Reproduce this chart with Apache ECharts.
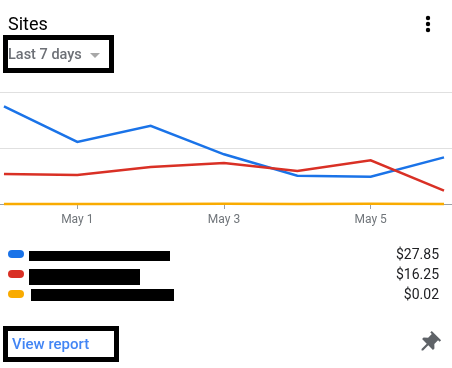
<!DOCTYPE html>
<html>
<head>
<meta charset="utf-8">
<style>
  html, body { margin: 0; padding: 0; background: #fff; }
  #main { width: 452px; height: 368px; }
</style>
<script src="https://cdn.jsdelivr.net/npm/echarts@6/dist/echarts.min.js"></script>
</head>
<body>
<div id="main"></div>
<script>
var chart = echarts.init(document.getElementById('main'), null, { renderer: 'canvas' });

var days = [0, 1, 2, 3, 4, 5, 6];
var tickDays = [1, 3, 5];
var tickLabels = { 1: 'May 1', 3: 'May 3', 5: 'May 5' };

var blueValues = [6.98, 4.43, 5.59, 3.55, 2.02, 1.95, 3.33];
var redValues = [2.15, 2.08, 2.65, 2.93, 2.36, 3.12, 0.96];
var yellowValues = [0, 0, 0, 0.01, 0, 0.01, 0];

var totals = ['$27.85', '$16.25', '$0.02'];
var colors = ['#1a73e8', '#d93025', '#f9ab00'];

var pinPoints = [[-6, -10], [6, -10], [6, -8], [4, -8], [4, -3], [7, 0], [7, 2], [1, 2], [1, 9], [0, 10], [-1, 9], [-1, 2], [-7, 2], [-7, 0], [-4, -3], [-4, -8], [-6, -8]];

function pairs(values) {
  return values.map(function (v, i) { return [days[i], v]; });
}

function lineSeries(name, values, color) {
  return {
    name: name,
    type: 'line',
    data: pairs(values),
    symbol: 'none',
    silent: true,
    animation: false,
    clip: false,
    lineStyle: { color: color, width: 2.5, join: 'miter' }
  };
}

var graphics = [
  { type: 'text', style: { text: 'Sites', x: 8, y: 16, font: '18px Roboto', fill: '#000' } },
  { type: 'text', style: { text: 'Last 7 days', x: 8, y: 48, font: '500 14.5px Roboto', fill: '#6d7076' } },
  { type: 'polygon', shape: { points: [[90, 53], [100, 53], [95, 58]] }, style: { fill: '#a8a8a8' } },
  { type: 'rect', shape: { x: 5.5, y: 37.5, width: 106, height: 33 }, style: { fill: 'none', stroke: '#000', lineWidth: 5 } },
  { type: 'circle', shape: { cx: 428, cy: 18, r: 2.2 }, style: { fill: '#000' } },
  { type: 'circle', shape: { cx: 428, cy: 24, r: 2.2 }, style: { fill: '#000' } },
  { type: 'circle', shape: { cx: 428, cy: 30, r: 2.2 }, style: { fill: '#000' } },
  { type: 'text', style: { text: 'View report', x: 12, y: 338, font: '500 15px Roboto', fill: '#4285f4' } },
  { type: 'rect', shape: { x: 5.5, y: 328.5, width: 111, height: 31 }, style: { fill: 'none', stroke: '#000', lineWidth: 5 } },
  {
    type: 'polygon',
    x: 429, y: 343,
    rotation: -Math.PI / 4,
    scaleX: 1.1, scaleY: 1.05,
    shape: { points: pinPoints },
    style: { fill: '#5f6368' }
  }
];

// legend rows, names are blacked out in the source picture
var redactions = [
  { x: 29, y: 251, width: 141, height: 10 },
  { x: 29, y: 269, width: 111, height: 16 },
  { x: 31, y: 289, width: 143, height: 12 }
];
totals.forEach(function (t, i) {
  var cy = 254 + i * 20;
  graphics.push({ type: 'rect', shape: { x: 8, y: cy - 4, width: 16, height: 8, r: 4 }, style: { fill: colors[i] } });
  graphics.push({ type: 'rect', shape: redactions[i], style: { fill: '#000' } });
  graphics.push({ type: 'text', style: { text: t, x: 439, y: cy + 1, align: 'right', verticalAlign: 'middle', font: '14px Roboto', fill: '#202124' } });
});

var option = {
  backgroundColor: '#fff',
  animation: false,
  grid: { left: 0, right: 0, top: 92, bottom: 164 },
  xAxis: {
    type: 'value',
    min: -0.054,
    max: 6.109,
    splitLine: { show: false },
    axisLine: { show: true, lineStyle: { color: '#9aa0a6', width: 1 } },
    axisTick: { show: true, customValues: tickDays, length: 5, lineStyle: { color: '#9aa0a6' } },
    axisLabel: {
      customValues: tickDays,
      margin: 10,
      color: '#70757a',
      fontFamily: 'Roboto',
      fontSize: 12,
      formatter: function (v) { return tickLabels[v]; }
    }
  },
  yAxis: {
    type: 'value',
    min: 0,
    max: 8,
    interval: 4,
    axisLine: { show: false },
    axisTick: { show: false },
    axisLabel: { show: false },
    splitLine: { lineStyle: { color: '#e0e0e0', width: 1 } }
  },
  series: [
    lineSeries('blue', blueValues, colors[0]),
    lineSeries('red', redValues, colors[1]),
    lineSeries('yellow', yellowValues, colors[2])
  ],
  graphic: graphics
};

chart.setOption(option);
window.addEventListener('resize', chart.resize);
</script>
</body>
</html>
